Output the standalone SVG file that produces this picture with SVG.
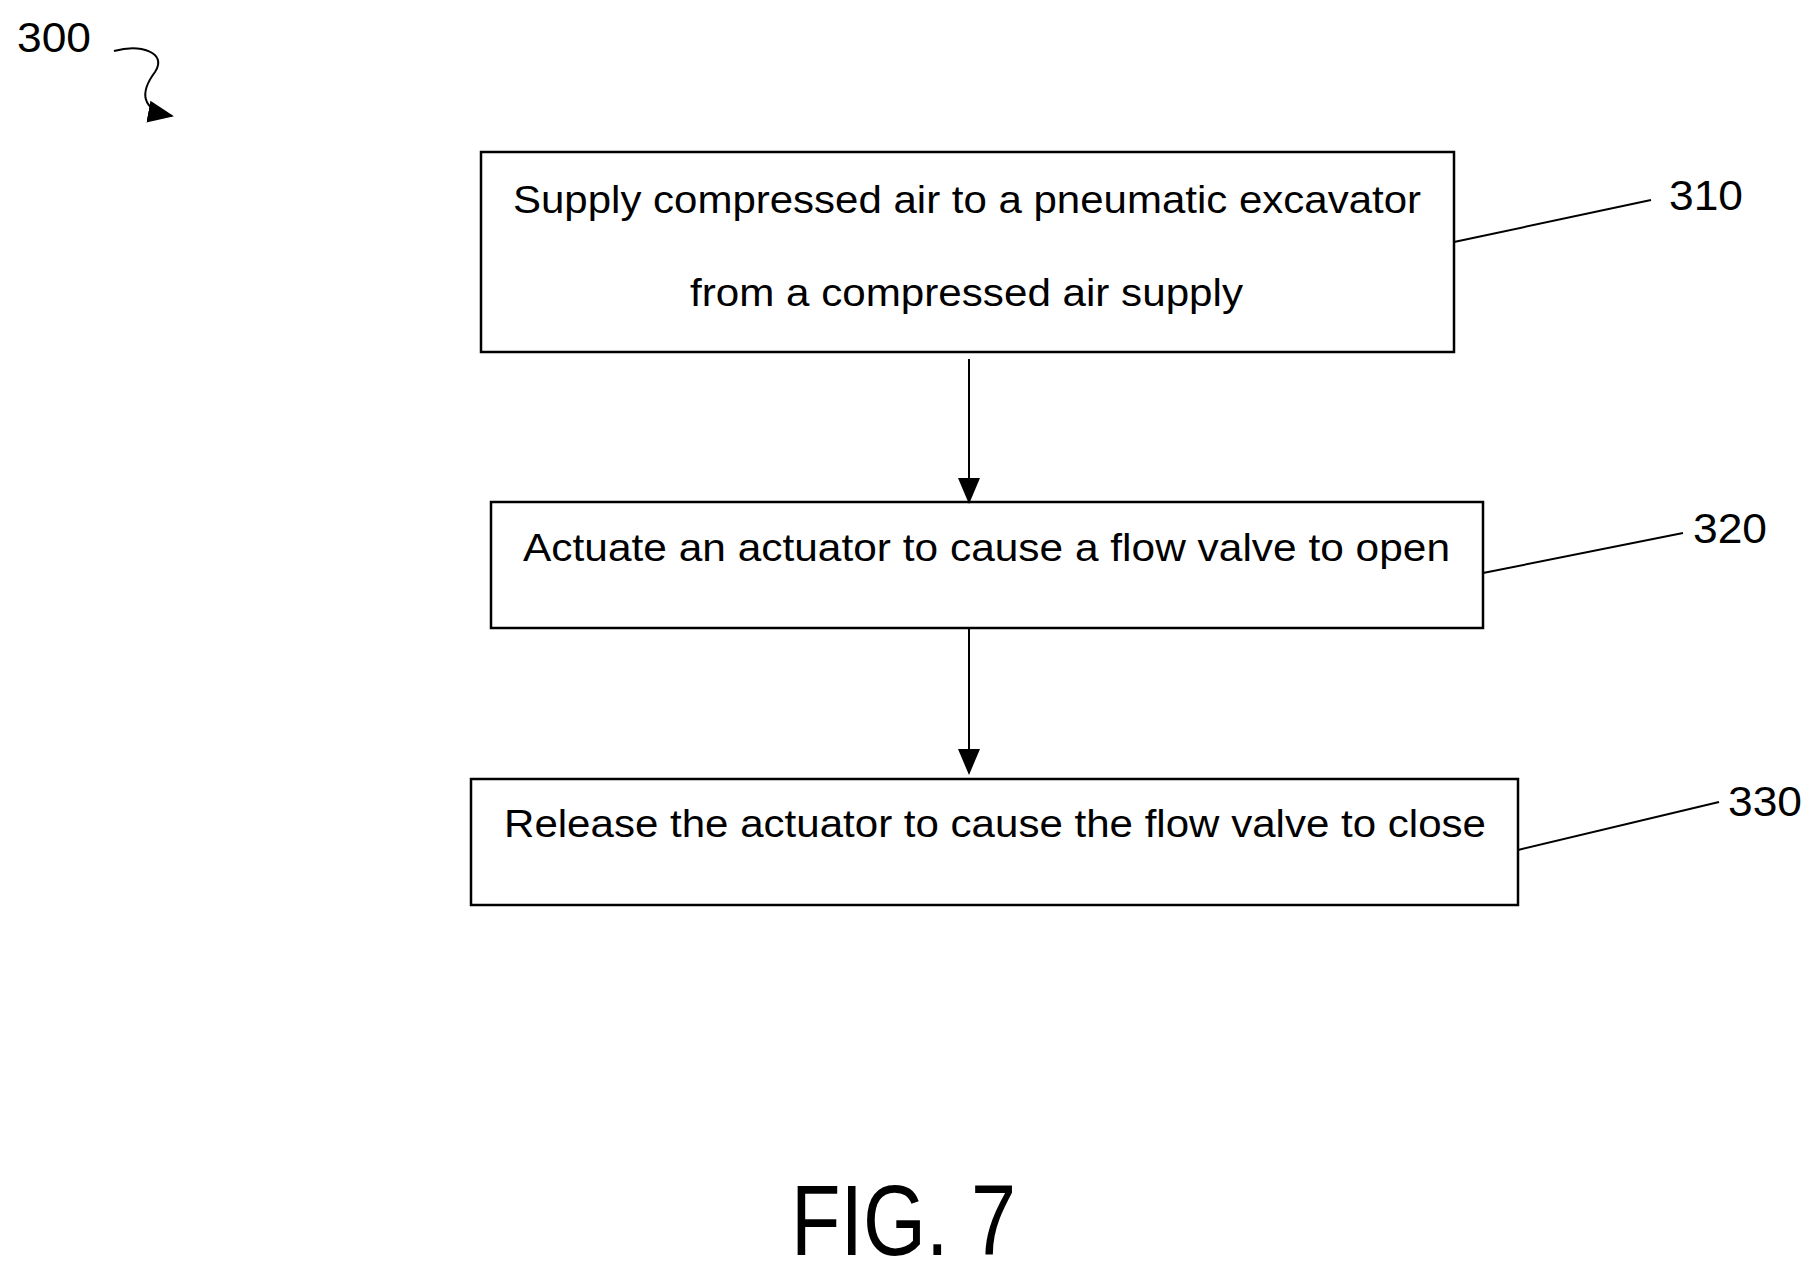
<svg xmlns="http://www.w3.org/2000/svg" width="1814" height="1281" viewBox="0 0 1814 1281">
<style>
.box{fill:#fff;stroke:#000;stroke-width:2.5}
.t{font-family:"Liberation Sans Narrow","Liberation Sans",sans-serif;font-size:38px;fill:#000}
.lb{font-family:"Liberation Sans Narrow","Liberation Sans",sans-serif;font-size:42px;fill:#000}
.fig{font-family:"Liberation Sans Narrow","Liberation Sans",sans-serif;font-size:100px;fill:#000}
.ln{stroke:#000;stroke-width:2;fill:none}
</style>
<defs>
<marker id="ab" markerWidth="26" markerHeight="26" refX="24" refY="13" orient="auto" markerUnits="userSpaceOnUse"><path d="M0,2 L26,13 L0,24 Z" fill="#000"/></marker></defs>
<rect width="1814" height="1281" fill="#fff"/>
<g id="n310"><rect class="box" x="481" y="152" width="973" height="200"/>
<text class="t" x="513" y="213" textLength="908" lengthAdjust="spacingAndGlyphs">Supply compressed air to a pneumatic excavator</text>
<text class="t" x="690" y="306" textLength="553" lengthAdjust="spacingAndGlyphs">from a compressed air supply</text></g>
<g id="n320"><rect class="box" x="491" y="502" width="992" height="126"/>
<text class="t" x="523" y="561" textLength="927" lengthAdjust="spacingAndGlyphs">Actuate an actuator to cause a flow valve to open</text></g>
<g id="n330"><rect class="box" x="471" y="779" width="1047" height="126"/>
<text class="t" x="504" y="837" textLength="982" lengthAdjust="spacingAndGlyphs">Release the actuator to cause the flow valve to close</text></g>
<g id="connectors">
<line class="ln" x1="969" y1="359" x2="969" y2="502" marker-end="url(#ab)"/>
<line class="ln" x1="969" y1="629" x2="969" y2="773" marker-end="url(#ab)"/>
<line class="ln" x1="1454" y1="242" x2="1651" y2="200"/>
<line class="ln" x1="1483" y1="573" x2="1683" y2="533"/>
<line class="ln" x1="1518" y1="850" x2="1719" y2="802"/>
<path class="ln" stroke-width="3" d="M114,51 C140,44 168,52 155,72 C140,92 140,110 172,116" marker-end="url(#ab)"/>
</g>
<text class="lb" x="1669" y="210" textLength="74" lengthAdjust="spacingAndGlyphs">310</text>
<text class="lb" x="1693" y="543" textLength="74" lengthAdjust="spacingAndGlyphs">320</text>
<text class="lb" x="1728" y="816" textLength="74" lengthAdjust="spacingAndGlyphs">330</text>
<text class="lb" x="17" y="52" textLength="74" lengthAdjust="spacingAndGlyphs">300</text>
<text class="fig" x="791" y="1255" textLength="225" lengthAdjust="spacingAndGlyphs">FIG. 7</text>
</svg>
